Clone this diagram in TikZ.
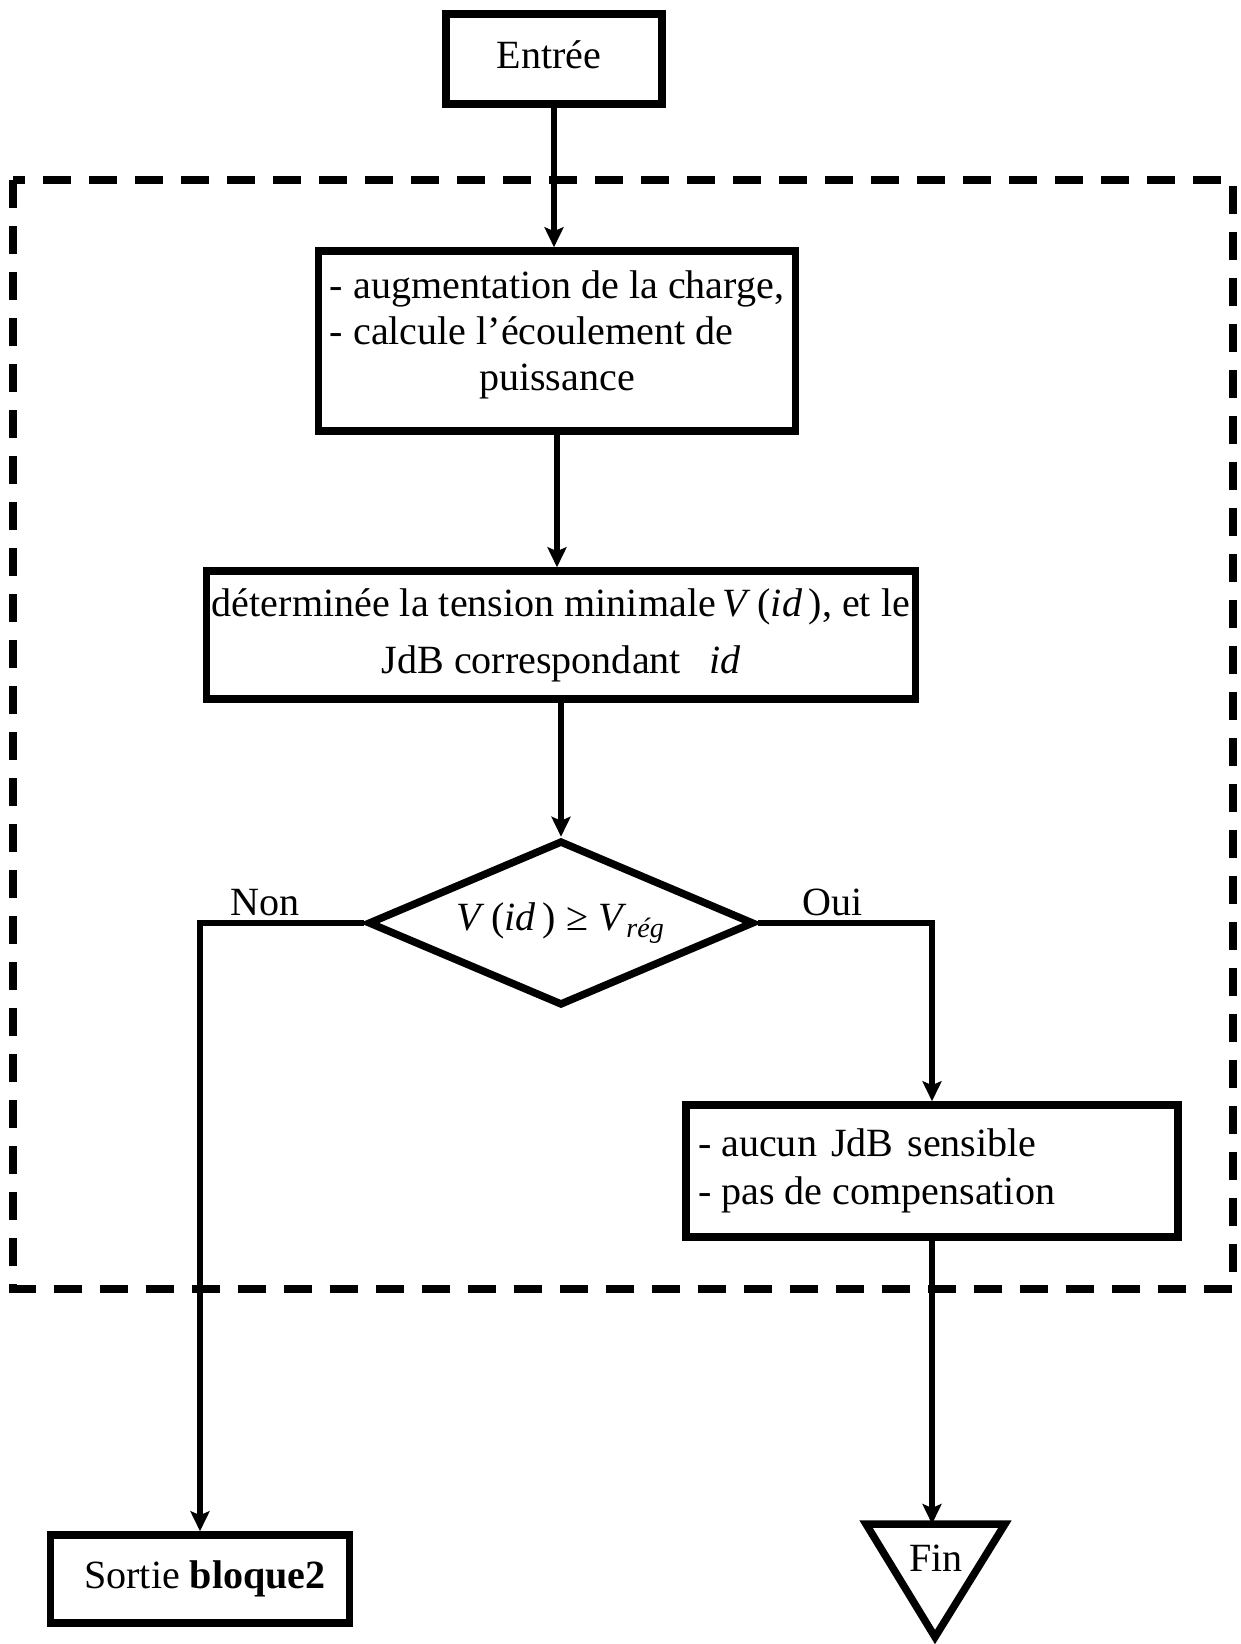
\documentclass[tikz,border=0pt]{standalone}
\usepackage{fontspec}
\setmainfont{Liberation Serif}
\usetikzlibrary{arrows.meta,shapes.geometric}
\begin{document}
\begin{tikzpicture}[x=0.1mm,y=-0.1mm,
  box/.style={draw, line width=0.75mm, rectangle, inner sep=0pt, font=\fontsize{11.4}{13.1}\selectfont},
  conn/.style={line width=0.6mm, -{Stealth[length=2mm,width=1.9mm,inset=0.4mm]}},
  lbl/.style={font=\fontsize{11.4}{13}\selectfont, inner sep=0pt},
  frame/.style={line width=0.8mm, dash pattern=on 2.8mm off 1.8mm}]
\useasboundingbox (0,0) rectangle (1240,1644);
\draw[frame] (13,180) rectangle (1233,1289);

\node[box, minimum width=21.6mm, minimum height=9mm] (entree) at (554,59)
  {\begin{tabular}{@{}c@{}}Entrée\hspace*{1mm}\end{tabular}};
\node[box, minimum width=47.7mm, minimum height=18mm] (calc) at (557,341)
  {\begin{tabular}{@{}l@{}}- augmentation de la charge,\\- calcule l’écoulement de\\\multicolumn{1}{@{}c@{}}{puissance}\\[1.2mm]\end{tabular}};
\node[box, minimum width=70.9mm, minimum height=12.8mm, align=center, font=\fontsize{11.4}{16.2}\selectfont] (det) at (561,635)
  {déterminée la tension minimale\,\textit{V}\,(\textit{id}\,), et le\\JdB correspondant\hspace{8pt}\textit{id}};
\node[draw, diamond, line width=0.75mm, aspect=2.34, minimum width=38.6mm, minimum height=16.5mm, inner sep=0pt,
  font=\fontsize{11.4}{13}\selectfont] (dec) at (561,923)
  {\textit{V}\,(\textit{id}\,) ≥ \textit{V}\textsubscript{\textit{rég}}};
\node[box, minimum width=49.2mm, minimum height=13.2mm, font=\fontsize{11.4}{13.7}\selectfont] (none) at (932,1171)
  {\begin{tabular}{@{}p{46.8mm}@{}}- aucun\hspace{4pt}JdB\hspace{4pt}sensible\\- pas de compensation\end{tabular}};
\node[box, minimum width=29.9mm, minimum height=8.8mm] (sortie) at (200,1579) {\hspace{1mm}Sortie \textbf{bloque2}};

\draw[line width=0.75mm] (866,1524) -- (1005,1524) -- (935,1637) -- cycle;
\coordinate (fintop) at (935,1524);
\node[lbl] (fin) at (936,1558) {Fin};

\node[lbl] (non) at (265,903) {Non};
\node[lbl] (oui) at (833,902) {Oui};

\draw[conn] (entree.south) -- (entree.south |- calc.north);
\draw[conn] (calc.south) -- (calc.south |- det.north);
\draw[conn] (det.south) -- (dec.north);
\draw[conn] (dec.west) -| (sortie.north);
\draw[conn] (dec.east) -| (none.north);
\draw[conn] (none.south) -- (none.south |- fintop);
\end{tikzpicture}
\end{document}
